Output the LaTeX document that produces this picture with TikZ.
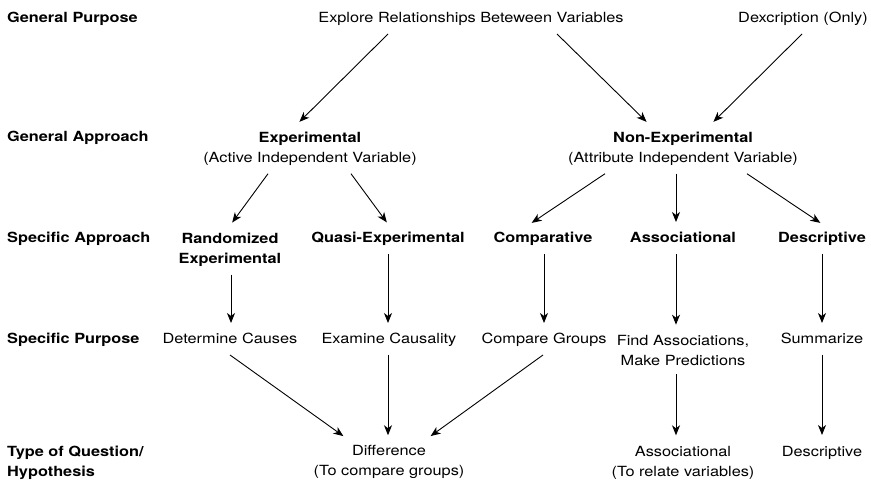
\documentclass[tikz,border=0pt]{standalone}
\usepackage{fontspec}
\setmainfont[FakeStretch=1.165]{TeX Gyre Heros}
\usetikzlibrary{arrows.meta}
\begin{document}
\begin{tikzpicture}[x=1pt,y=-1pt,
  txt/.style={inner sep=0pt, outer ysep=8.5pt, font=\fontsize{14}{20}\selectfont, align=center},
  one/.style={txt, text height=10.5pt, text depth=2.5pt},
  lbl/.style={inner sep=0pt, anchor=west, font=\fontsize{14}{20}\selectfont\bfseries, align=left},
  arr/.style={draw=black, line width=0.9pt, -{Stealth[length=10pt,width=8pt,inset=3pt]}, shorten >=2pt}]
\useasboundingbox (0,0) rectangle (871,481);
% row labels
\node[lbl, text height=10.5pt, text depth=2.5pt] (l1) at (7,19) {General Purpose};
\node[lbl, text height=10.5pt, text depth=2.5pt] (l2) at (7,138) {General Approach};
\node[lbl, text height=10.5pt, text depth=2.5pt] (l3) at (7,239) {Specific Approach};
\node[lbl, text height=10.5pt, text depth=2.5pt] (l4) at (7,340) {Specific Purpose};
\node[lbl] (l5) at (7,462.4) {Type of Question/\\Hypothesis};
% row 1
\node[one] (explore) at (471,19) {Explore Relationships Beteween Variables};
\node[one] (desconly) at (803,19) {Dexcription (Only)};
% row 2
\node[txt] (exp) at (310,148.5) {\textbf{Experimental}\\(Active Independent Variable)};
\node[txt] (nonexp) at (683,148.5) {\textbf{Non-Experimental}\\(Attribute Independent Variable)};
% row 3
\node[txt, font=\fontsize{14}{20}\selectfont\bfseries] (rand) at (230,249.4) {Randomized\\Experimental};
\node[one, font=\fontsize{14}{20}\selectfont\bfseries] (quasi) at (388,239) {Quasi-Experimental};
\node[one, font=\fontsize{14}{20}\selectfont\bfseries] (comp) at (543,239) {Comparative};
\node[one, font=\fontsize{14}{20}\selectfont\bfseries] (assoc) at (683,239) {Associational};
\node[one, font=\fontsize{14}{20}\selectfont\bfseries] (descr) at (822,239) {Descriptive};
% row 4
\node[one] (detc) at (230,340) {Determine Causes};
\node[one] (exam) at (389,340) {Examine Causality};
\node[one] (compg) at (544,340) {Compare Groups};
\node[txt] (finda) at (683,350.4) {Find Associations,\\Make Predictions};
\node[one] (summ) at (822,340) {Summarize};
% row 5
\node[txt] (diff) at (389,462.4) {Difference\\(To compare groups)};
\node[txt] (assocq) at (683,462.4) {Associational\\(To relate variables)};
\node[one] (descq) at (822,452) {Descriptive};
% arrows
\draw[arr] (explore.south -| 388,0) -- (exp.north -| 298,0);
\draw[arr] (explore.south -| 557,0) -- (nonexp.north -| 648,0);
\draw[arr] (desconly.south -| 802,0) -- (nonexp.north -| 712,0);
\draw[arr] (exp.south -| 268,0) -- (rand.north -| 231,0);
\draw[arr] (exp.south -| 351,0) -- (quasi.north -| 388,0);
\draw[arr] (nonexp.south -| 605,0) -- (comp.north -| 530,0);
\draw[arr] (nonexp.south -| 676,0) -- (assoc.north -| 676,0);
\draw[arr] (nonexp.south -| 747,0) -- (descr.north -| 822,0);
\draw[arr] (rand.south -| 231,0) -- (detc.north -| 231,0);
\draw[arr] (quasi.south -| 388,0) -- (exam.north -| 388,0);
\draw[arr] (comp.south -| 544,0) -- (compg.north -| 544,0);
\draw[arr] (assoc.south -| 676,0) -- (finda.north -| 676,0);
\draw[arr] (descr.south -| 822,0) -- (summ.north -| 822,0);
\draw[arr] (detc.south -| 230,0) -- (diff.north -| 345,0);
\draw[arr] (exam.south -| 388,0) -- (diff.north -| 388,0);
\draw[arr] (compg.south -| 543,0) -- (diff.north -| 429,0);
\draw[arr] (finda.south -| 676,0) -- (assocq.north -| 676,0);
\draw[arr] (summ.south -| 822,0) -- (descq.north -| 822,0);
\end{tikzpicture}
\end{document}
